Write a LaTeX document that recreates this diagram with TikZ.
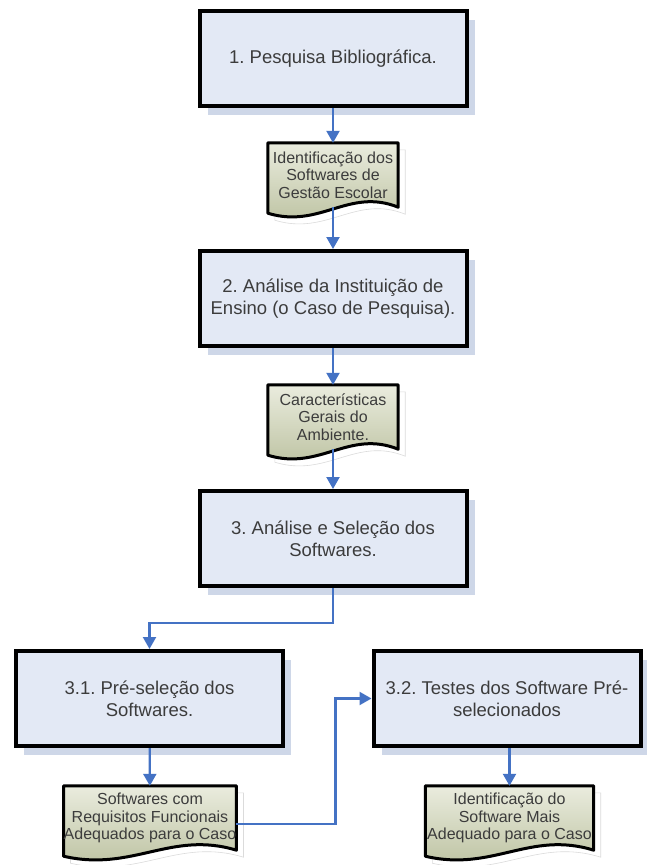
\documentclass[tikz,border=0pt]{standalone}
\usepackage{fontspec}
\setmainfont{Liberation Sans}
\frenchspacing
\usetikzlibrary{positioning}
\usetikzlibrary{arrows.meta}
\usetikzlibrary{calc}
\usetikzlibrary{shadows}
\usetikzlibrary{backgrounds}
\definecolor{boxfill}{RGB}{227, 233, 245}
\definecolor{boxshade}{RGB}{206, 215, 232}
\definecolor{doctop}{RGB}{234, 236, 222}
\definecolor{docbot}{RGB}{186, 192, 158}
\definecolor{flow}{RGB}{68, 114, 196}
\definecolor{ink}{RGB}{60, 60, 60}

% outline of a document shape round node #1, shifted by (#3,#4)
\newcommand{\docoutline}[4]{%
  \path[#2] ([shift={(#3,#4)}]#1.north west) -- ([shift={(#3,#4)}]#1.north east)
    -- ([shift={(#3,#4)}]#1.south east)
    .. controls ($(#1.south west)!0.62!(#1.south east)+(#3,#4+20pt)$)
    and ($(#1.south west)!0.40!(#1.south east)+(#3,#4-22pt)$)
    .. ([shift={(#3,#4-6pt)}]#1.south west) -- cycle;}

\begin{document}
\begin{tikzpicture}[
  stepbox/.style={rectangle, draw=black, line width=4pt, fill=boxfill,
    minimum width=267pt, minimum height=95pt, align=center, text=ink,
    font=\fontsize{18.5}{22}\selectfont,
    drop shadow={shadow xshift=8pt, shadow yshift=-9pt, fill=boxshade, opacity=1}},
  docarea/.style={rectangle, minimum height=64pt, inner sep=0pt,
    align=center, text=ink, font=\fontsize{16}{17.5}\selectfont},
  docline/.style={draw=black, line width=3pt, line join=round,
    top color=doctop, bottom color=docbot},
  docshade/.style={draw=black!14, line width=0.6pt, fill=white},
  flow/.style={draw=flow, line width=2.2pt,
    -{Triangle[width=13pt,length=12pt]}}]
\useasboundingbox (0pt, 0pt) rectangle (647pt, -865pt);

\node (b1) [stepbox] at (333pt, -58.5pt) {1. Pesquisa Bibliográfica.};
\node (d1) [docarea, minimum width=130pt] at (333pt, -175pt) {Identificação dos\\Softwares de\\Gestão Escolar};
\node (b2) [stepbox] at (333pt, -298.5pt) {2. Análise da Instituição de\\Ensino (o Caso de Pesquisa).};
\node (d2) [docarea, minimum width=130pt] at (333pt, -417pt) {Características\\Gerais do\\Ambiente.};
\node (b3) [stepbox] at (333pt, -538.5pt) {3. Análise e Seleção dos\\Softwares.};
\node (b31) [stepbox] at (149.5pt, -698.5pt) {3.1. Pré-seleção dos\\Softwares.};
\node (b32) [stepbox] at (507pt, -698.5pt) {3.2. Testes dos Software Pré-\\selecionados};
\node (d3) [docarea, minimum width=168pt] at (150pt, -818pt) {Softwares com\\Requisitos Funcionais\\Adequados para o Caso};
\node (d4) [docarea, minimum width=168pt] at (509.5pt, -818pt) {Identificação do\\Software Mais\\Adequado para o Caso};

\begin{scope}[on background layer]
\fill[white] (0pt, 0pt) rectangle (647pt, -865pt);
\foreach \d in {d1, d2, d3, d4} {
  \docoutline{\d}{docshade}{7pt}{-7pt}
  \docoutline{\d}{docline}{0pt}{0pt}
}
\end{scope}

\draw [flow] (b1) -- (d1);
\draw [flow] (d1.south) -- (b2);
\draw [flow] (b2) -- (d2);
\draw [flow] (d2.south) -- (b3);
\draw [flow] (b3.south) -- ++(0pt, -35pt) -| (b31.north);
\draw [flow] (b31) -- (d3);
\draw [flow] ([yshift=-6pt]d3.east) -- ++(99pt, 0pt) |- (b32.west);
\draw [flow] (b32.south -| d4) -- (d4);
\end{tikzpicture}
\end{document}
